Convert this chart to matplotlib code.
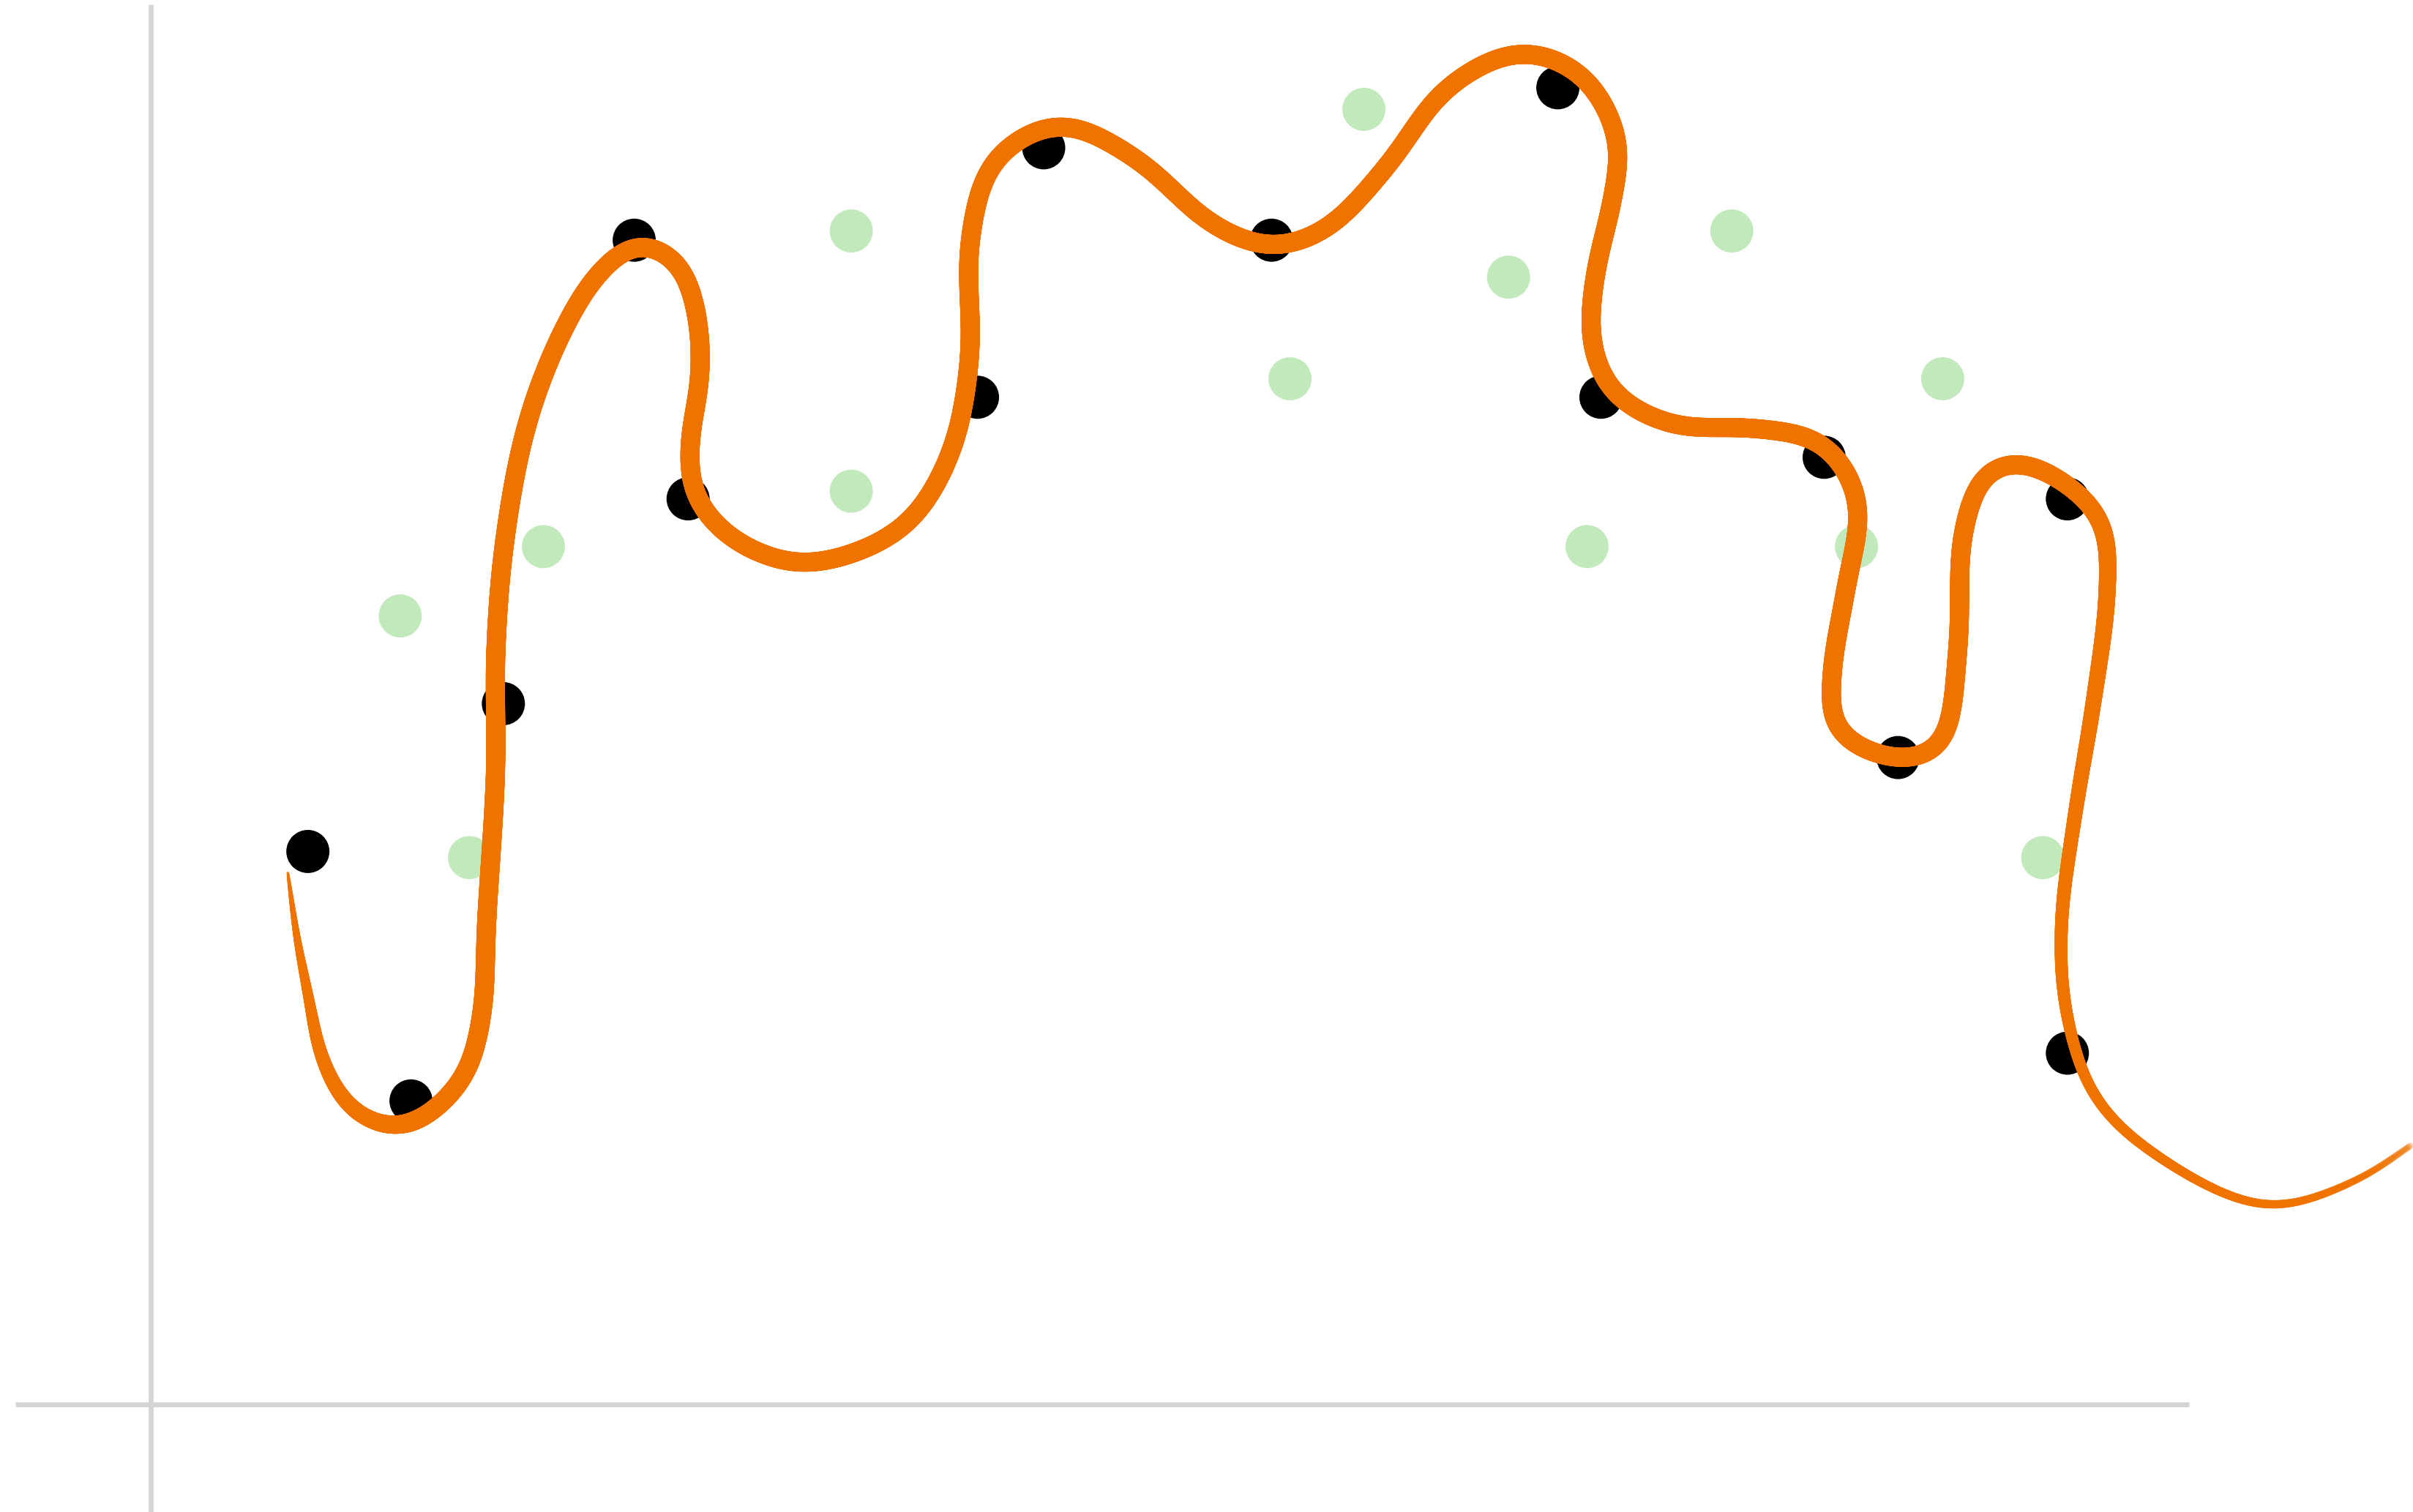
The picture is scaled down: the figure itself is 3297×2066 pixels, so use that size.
import numpy as np
import matplotlib
matplotlib.use("Agg")
import matplotlib.pyplot as plt
from matplotlib.collections import LineCollection

# measured points (black) and background points (green)
black_x = [1.02, 1.69, 2.29, 3.14, 3.49, 5.37, 5.80, 7.28, 9.14, 9.42, 10.87, 11.35, 12.45, 12.45]
black_y = [3.59, 1.97, 4.55, 7.56, 5.88, 6.54, 8.16, 7.56, 8.55, 6.54, 6.15, 4.20, 5.88, 2.28]

green_x = [1.62, 2.07, 2.55, 4.55, 4.55, 7.40, 7.88, 8.82, 9.33, 10.27, 11.08, 11.64, 12.29]
green_y = [5.12, 3.55, 5.57, 7.62, 5.93, 6.66, 8.41, 7.32, 5.57, 7.62, 5.57, 6.66, 3.55]

# hand-drawn stroke through the black points, waypoints
curve_x = [0.89, 0.95, 1.02, 1.12, 1.32, 1.64, 2.02, 2.15, 2.18, 2.24, 2.24, 2.30, 2.45, 2.69,
           2.92, 3.17, 3.42, 3.54, 3.57, 3.50, 3.52, 3.66, 3.92, 4.28, 4.88, 5.19, 5.32, 5.32,
           5.48, 5.90, 6.40, 6.90, 7.28, 7.63, 8.03, 8.42, 8.90, 9.30, 9.53, 9.50, 9.38, 9.36,
           9.50, 9.89, 10.41, 10.86, 11.09, 11.01, 10.92, 10.95, 11.35, 11.62, 11.74, 11.77,
           11.92, 12.13, 12.47, 12.68, 12.71, 12.62, 12.50, 12.41, 12.44, 12.62, 12.98, 13.74,
           14.34, 14.68]
curve_y = [3.45, 3.02, 2.67, 2.22, 1.90, 1.80, 2.10, 2.52, 3.12, 4.12, 4.88, 5.62, 6.39, 7.00,
           7.36, 7.54, 7.42, 7.12, 6.69, 6.24, 5.94, 5.72, 5.54, 5.46, 5.69, 6.16, 6.80, 7.55,
           8.08, 8.31, 8.09, 7.66, 7.52, 7.63, 8.04, 8.55, 8.78, 8.63, 8.21, 7.85, 7.32, 6.89,
           6.57, 6.36, 6.34, 6.24, 5.87, 5.29, 4.74, 4.38, 4.19, 4.27, 4.92, 5.65, 6.05, 6.12,
           5.96, 5.72, 5.29, 4.56, 3.83, 3.11, 2.56, 2.01, 1.65, 1.29, 1.46, 1.68]


def catmull_rom(px, py, n=40, alpha=0.5):
    pts = np.column_stack([px, py])
    pts = np.vstack([2 * pts[0] - pts[1], pts, 2 * pts[-1] - pts[-2]])
    out = []
    for i in range(1, len(pts) - 2):
        p0, p1, p2, p3 = pts[i - 1], pts[i], pts[i + 1], pts[i + 2]
        t0 = 0.0
        t1 = t0 + np.linalg.norm(p1 - p0) ** alpha
        t2 = t1 + np.linalg.norm(p2 - p1) ** alpha
        t3 = t2 + np.linalg.norm(p3 - p2) ** alpha
        t = np.linspace(t1, t2, n, endpoint=False)[:, None]
        a1 = (t1 - t) / (t1 - t0) * p0 + (t - t0) / (t1 - t0) * p1
        a2 = (t2 - t) / (t2 - t1) * p1 + (t - t1) / (t2 - t1) * p2
        a3 = (t3 - t) / (t3 - t2) * p2 + (t - t2) / (t3 - t2) * p3
        b1 = (t2 - t) / (t2 - t0) * a1 + (t - t0) / (t2 - t0) * a2
        b2 = (t3 - t) / (t3 - t1) * a2 + (t - t1) / (t3 - t1) * a3
        out.append((t2 - t) / (t2 - t1) * b1 + (t - t1) / (t2 - t1) * b2)
    out.append(pts[-2][None, :])
    return np.vstack(out)


def smooth_stroke(pts, step=0.005, sigma=0.115):
    # resample evenly along the stroke, then soften the hand-read wobble
    d = np.linalg.norm(np.diff(pts, axis=0), axis=1)
    s = np.concatenate([[0], np.cumsum(d)])
    u = np.arange(0, s[-1], step)
    x = np.interp(u, s, pts[:, 0])
    y = np.interp(u, s, pts[:, 1])
    k = int(3 * sigma / step)
    g = np.exp(-0.5 * (np.arange(-k, k + 1) * step / sigma) ** 2)
    g /= g.sum()

    def run(v):
        v = np.concatenate([2 * v[0] - v[k:0:-1], v, 2 * v[-1] - v[-2:-k - 2:-1]])
        return np.convolve(v, g, mode="valid")

    return np.column_stack([run(x), run(y)])


fig = plt.figure(figsize=(16.49, 10.33), dpi=200)
ax = fig.add_axes([0, 0, 1, 1])
ax.set_xlim(-0.98, 14.70)
ax.set_ylim(-0.70, 9.12)
ax.axis("off")

# axis lines
axis_col = "#d4d4d4"
ax.plot([0, 0], [-0.75, 9.09], color=axis_col, lw=2.4, solid_capstyle="butt", zorder=1)
ax.plot([-0.88, 13.24], [0, 0], color=axis_col, lw=2.4, solid_capstyle="butt", zorder=1)

ax.scatter(green_x, green_y, s=450, color="#c2e9bc", edgecolors="none", zorder=2)
ax.scatter(black_x, black_y, s=450, color="black", edgecolors="none", zorder=3)

# stroke with tapered ends
pts = smooth_stroke(catmull_rom(curve_x, curve_y))
seg = np.stack([pts[:-1], pts[1:]], axis=1)
s = np.linspace(0, 1, len(seg))
main_w = 9.4
w = np.full(len(seg), main_w)
start = s < 0.06
w[start] = 1.2 + (main_w - 1.2) * (s[start] / 0.06) ** 0.8
tail = s > 0.80
w[tail] = main_w - (main_w - 3.2) * ((s[tail] - 0.80) / 0.20)
alpha = np.ones(len(seg))
fade = s > 0.93
alpha[fade] = 1 - 0.85 * ((s[fade] - 0.93) / 0.07) ** 1.5
cols = np.zeros((len(seg), 4))
cols[:, :3] = matplotlib.colors.to_rgb("#f07300")
cols[:, 3] = alpha
lc = LineCollection(seg, linewidths=w, colors=cols, capstyle="round", joinstyle="round", zorder=4)
ax.add_collection(lc)

fig.savefig("out.png", dpi=200, facecolor="white")
